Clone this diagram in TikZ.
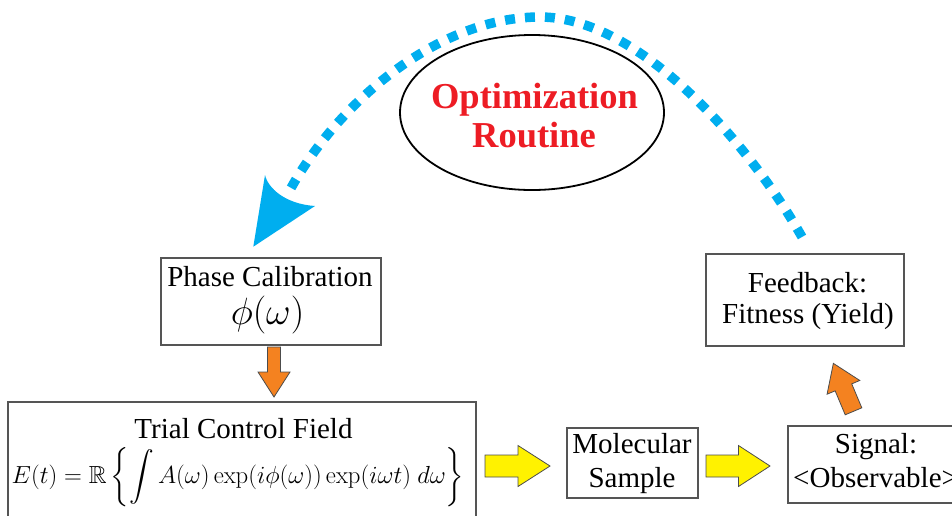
\RequirePackage{fix-cm}
\documentclass[tikz,border=0pt]{standalone}
\usepackage{amsmath,amssymb}
\usepackage[no-math]{fontspec}
\setmainfont{Liberation Serif}
\DeclareFontFamily{U}{msb}{}
\DeclareFontShape{U}{msb}{m}{n}{<->msbm10}{}
\usetikzlibrary{shapes.geometric}
\definecolor{cyanarc}{RGB}{0,174,239}
\definecolor{optred}{RGB}{237,28,36}
\definecolor{arrorange}{RGB}{244,130,32}
\definecolor{arryellow}{RGB}{255,242,0}
\definecolor{boxgray}{RGB}{85,85,85}
\tikzset{
  box/.style={draw=boxgray, line width=1.3pt, rectangle, inner sep=0pt},
  lbl/.style={anchor=base, inner sep=0pt, font=\fontsize{29}{33}\selectfont},
  orangearr/.style={fill=arrorange, draw=black!70, line width=0.8pt, line join=miter},
  yellowarr/.style={fill=arryellow, draw=black!70, line width=0.8pt, line join=miter},
  dotarc/.style={cyanarc, line width=9.5pt, dash pattern=on 10pt off 10pt},
}
% #1 style, #2 position, #3 angle, #4 length, #5 shaft width, #6 shaft length, #7 head width
\newcommand\myblockarrow[7]{%
  \begin{scope}[shift={#2}, rotate=#3]
    \path[#1] (0,-#5/2) -- (#6,-#5/2) -- (#6,-#7/2) -- (#4,0) -- (#6,#7/2) -- (#6,#5/2) -- (0,#5/2) -- cycle;
  \end{scope}}
\begin{document}
\begin{tikzpicture}[x=1pt, y=-1pt]
\useasboundingbox (0,0) rectangle (952,515);
\clip (0,0) rectangle (952,515);

% boxes
\node[box, minimum width=220pt, minimum height=87pt] (phase) at (271,301.5) {};
\node[box, minimum width=468pt, minimum height=130pt] (trial) at (242,467) {};
\node[box, minimum width=131pt, minimum height=70pt] (mol) at (632.5,463) {};
\node[box, minimum width=182pt, minimum height=77pt] (sig) at (879,464.5) {};
\node[box, minimum width=198pt, minimum height=92pt] (fb) at (805,300) {};
\node[draw=black, line width=1.8pt, ellipse, minimum width=264pt, minimum height=155pt] (opt) at (532,112.5) {};

% texts
\node[lbl] (phaset) at (270,286) {Phase Calibration};
\node[anchor=base, inner sep=0pt, font=\fontsize{38}{40}\selectfont] (phim) at (267.5,324.5) {$\phi(\omega)$};
\node[lbl] (trialt) at (243.5,438) {Trial Control Field};
\node[anchor=base, inner sep=0pt, font=\fontsize{24.7}{28}\selectfont] (eq) at (238,483) {$\displaystyle E(t) = \mathbb{R}\left\{\int A(\omega)\exp(i\phi(\omega))\exp(i\omega t)\ d\omega\right\}$};
\node[lbl] (molt1) at (632,453) {Molecular};
\node[lbl] (molt2) at (632,487) {Sample};
\node[lbl] (sigt1) at (876,453) {Signal:};
\node[lbl, anchor=base west] (sigt2) at (793,487) {<Observable>};
\node[lbl] (fbt1) at (807.5,292) {Feedback:};
\node[lbl] (fbt2) at (808,323) {Fitness (Yield)};
\node[anchor=base, inner sep=0pt, text=optred, font=\fontsize{36.5}{40}\selectfont\bfseries] (optt1) at (534.5,108) {Optimization};
\node[anchor=base, inner sep=0pt, text=optred, font=\fontsize{36.5}{40}\selectfont\bfseries] (optt2) at (534,147) {Routine};

% dotted feedback arc
\coordinate (arcA) at (802,237);
\coordinate (arcB) at (291,188);
\coordinate (arcTip) at (253.3,246.7);
\draw[dotarc] (arcA) .. controls (750,145) and (640,17) .. (540,17) .. controls (440,17) and (340,100) .. (arcB);
\fill[cyanarc] (arcTip) -- (265,175) .. controls (268,188) and (285,204) .. (315,206) -- cycle;

% block arrows
\myblockarrow{orangearr}{(274,347)}{-90}{50}{13}{25}{32}
\myblockarrow{yellowarr}{(485,466)}{0}{65}{22}{33}{41}
\myblockarrow{yellowarr}{(706,466)}{0}{64}{22}{32.5}{41}
\myblockarrow{orangearr}{(853.5,411.3)}{112.8}{52}{18}{26}{35.5}
\end{tikzpicture}
\end{document}
